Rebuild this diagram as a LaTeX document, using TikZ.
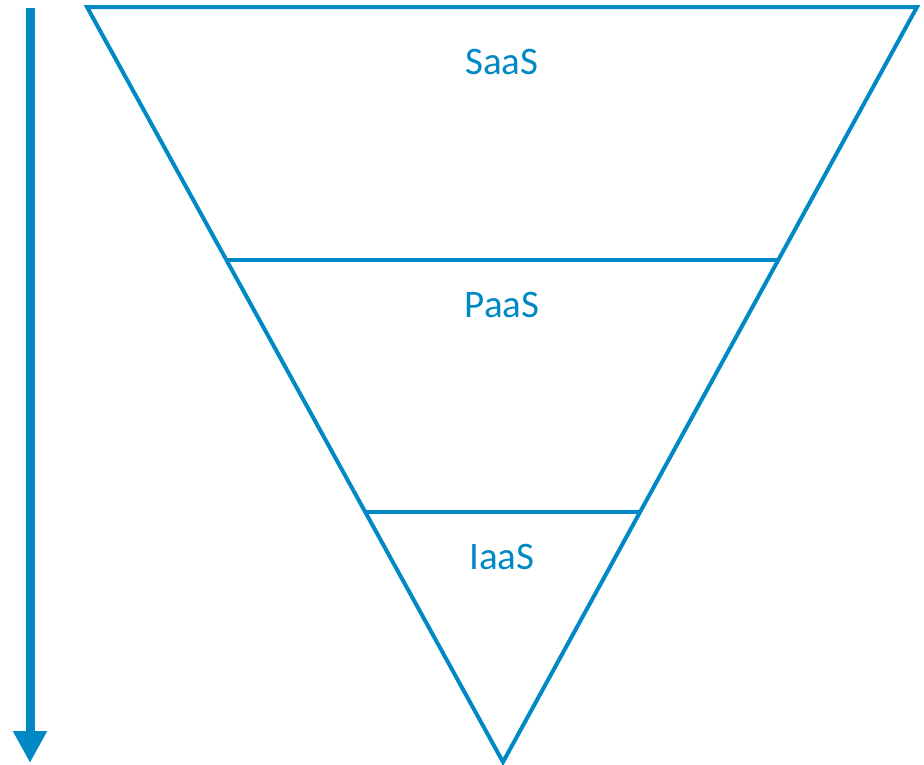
\documentclass[tikz,border=0pt]{standalone}
\usepackage{fontspec}
\setmainfont{Carlito}
\usetikzlibrary{calc,arrows.meta}
\definecolor{layerblue}{RGB}{0,137,196}
\begin{document}
\begin{tikzpicture}[x=1pt,y=-1pt]

    \tikzset{
      edge/.style={
        color=layerblue,
        line width=4pt,
        line join=miter,
      },
      layer/.style={
        text=layerblue,
        font=\fontsize{39}{40}\selectfont,
        anchor=center,
        inner sep=0pt,
      },
    }
    \useasboundingbox (0,0) rectangle (924,764);
    % funnel corners
    \coordinate (tl) at (87,7);
    \coordinate (tr) at (917,7);
    \coordinate (tip) at (503,762);
    \draw[edge] (tl)--(tr)--(tip)--cycle;
	\draw[edge] ($(tl)!0.335!(tip)$) coordinate (ml) -- ($(tr)!0.335!(tip)$) coordinate (mr);
	\draw[edge] ($(tl)!0.669!(tip)$) coordinate (ll) -- ($(tr)!0.669!(tip)$) coordinate (lr);
	\node[layer] (saas) at (502,62) {SaaS};
	\node[layer] (paas) at (502,305) {PaaS};
	\node[layer] (iaas) at (502,557) {IaaS};
    % arrow on the left
    \coordinate (atop) at (30,8);
    \coordinate (abot) at (30,763);
	\draw[layerblue,line width=9pt,-{Triangle[width=32pt,length=32pt]}] (atop)--(abot);

\end{tikzpicture}
\end{document}
